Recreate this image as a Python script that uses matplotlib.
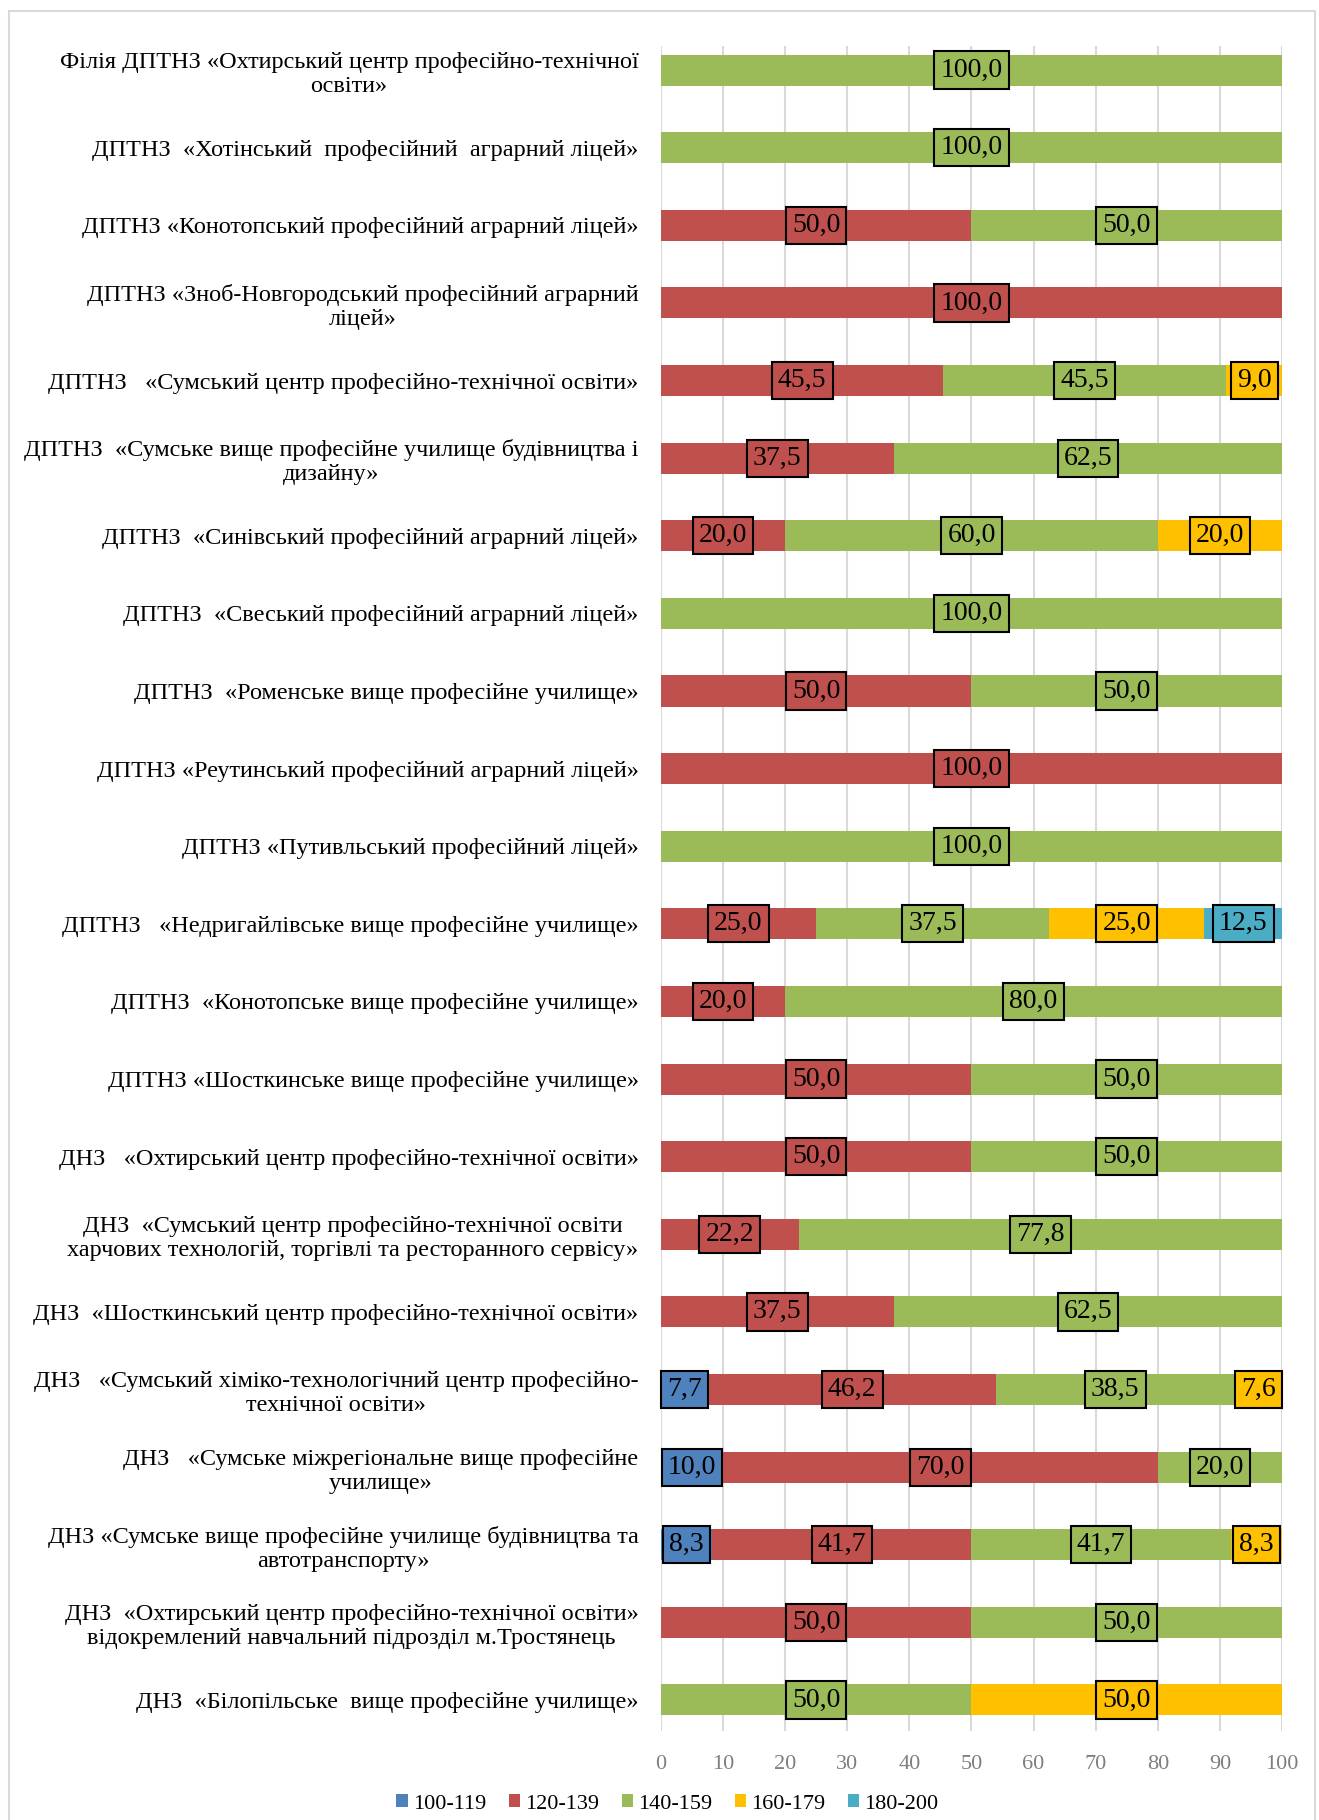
import matplotlib
matplotlib.use('Agg')
import matplotlib.pyplot as plt
import numpy as np
from matplotlib.patches import Rectangle

plt.rcParams['font.family'] = ['Liberation Serif', 'DejaVu Serif']

# категорії (зверху вниз)
categories = [
    'Філія ДПТНЗ «Охтирський центр професійно-технічної\nосвіти»',
    'ДПТНЗ  «Хотінський  професійний  аграрний ліцей»',
    'ДПТНЗ «Конотопський професійний аграрний ліцей»',
    'ДПТНЗ «Зноб-Новгородський професійний аграрний\nліцей»',
    'ДПТНЗ   «Сумський центр професійно-технічної освіти»',
    'ДПТНЗ  «Сумське вище професійне училище будівництва і\nдизайну»',
    'ДПТНЗ  «Синівський професійний аграрний ліцей»',
    'ДПТНЗ  «Свеський професійний аграрний ліцей»',
    'ДПТНЗ  «Роменське вище професійне училище»',
    'ДПТНЗ «Реутинський професійний аграрний ліцей»',
    'ДПТНЗ «Путивльський професійний ліцей»',
    'ДПТНЗ   «Недригайлівське вище професійне училище»',
    'ДПТНЗ  «Конотопське вище професійне училище»',
    'ДПТНЗ «Шосткинське вище професійне училище»',
    'ДНЗ   «Охтирський центр професійно-технічної освіти»',
    'ДНЗ  «Сумський центр професійно-технічної освіти\nхарчових технологій, торгівлі та ресторанного сервісу»',
    'ДНЗ  «Шосткинський центр професійно-технічної освіти»',
    'ДНЗ   «Сумський хіміко-технологічний центр професійно-\nтехнічної освіти»',
    'ДНЗ   «Сумське міжрегіональне вище професійне\nучилище»',
    'ДНЗ «Сумське вище професійне училище будівництва та\nавтотранспорту»',
    'ДНЗ  «Охтирський центр професійно-технічної освіти»\nвідокремлений навчальний підрозділ м.Тростянець',
    'ДНЗ  «Білопільське  вище професійне училище»',
]

s_100_119 = [0, 0, 0, 0, 0, 0, 0, 0, 0, 0, 0, 0, 0, 0, 0, 0, 0, 7.7, 10.0, 8.3, 0, 0]
s_120_139 = [0, 0, 50.0, 100.0, 45.5, 37.5, 20.0, 0, 50.0, 100.0, 0, 25.0, 20.0, 50.0, 50.0, 22.2, 37.5, 46.2, 70.0, 41.7, 50.0, 0]
s_140_159 = [100.0, 100.0, 50.0, 0, 45.5, 62.5, 60.0, 100.0, 50.0, 0, 100.0, 37.5, 80.0, 50.0, 50.0, 77.8, 62.5, 38.5, 20.0, 41.7, 50.0, 50.0]
s_160_179 = [0, 0, 0, 0, 9.0, 0, 20.0, 0, 0, 0, 0, 25.0, 0, 0, 0, 0, 0, 7.6, 0, 8.3, 0, 50.0]
s_180_200 = [0, 0, 0, 0, 0, 0, 0, 0, 0, 0, 0, 12.5, 0, 0, 0, 0, 0, 0, 0, 0, 0, 0]

series_names = ['100-119', '120-139', '140-159', '160-179', '180-200']
series = [s_100_119, s_120_139, s_140_159, s_160_179, s_180_200]
colors = ['#4F81BD', '#C0504D', '#9BBB59', '#FFC000', '#4BACC6']

fig = plt.figure(figsize=(13.19, 18.2), dpi=100)
ax = fig.add_axes([0.501, 0.0489, 0.471, 0.9258])

y = np.arange(len(categories))
left = np.zeros(len(categories))
for name, vals, col in zip(series_names, series, colors):
    vals = np.array(vals)
    ax.barh(y, vals, left=left, height=0.4, color=col, label=name, zorder=2)
    for yi, (l, v) in enumerate(zip(left, vals)):
        if v > 0:
            ax.text(l + v / 2, yi, f'{v:.1f}'.replace('.', ','), ha='center', va='center',
                    fontsize=20, color='black', zorder=3,
                    bbox=dict(boxstyle='square,pad=0.22', fc=col, ec='black', lw=1.5))
    left = left + vals

ax.set_xlim(0, 100)
ax.set_ylim(len(categories) - 0.6, -0.31)
ax.set_xticks(np.arange(0, 101, 10))
ax.set_yticks(y)
ax.set_yticklabels(categories, fontsize=17.5, multialignment='center')
ax.tick_params(axis='y', length=0, pad=16)
ax.tick_params(axis='x', length=0, pad=17, labelsize=16, labelcolor='#7F7F7F')
ax.grid(axis='x', color='#D9D9D9', linewidth=1.5, zorder=0)
ax.set_axisbelow(True)
for sp in ax.spines.values():
    sp.set_visible(False)

fig.legend(loc='center', bbox_to_anchor=(0.506, 0.0088), ncol=5, frameon=False,
           fontsize=16, handlelength=0.5, handleheight=0.5, handletextpad=0.25,
           columnspacing=1.0)

# рамка навколо
fig.patches.append(Rectangle((0.007, -0.01), 0.99, 1.004, transform=fig.transFigure,
                             fill=False, ec='#D9D9D9', lw=1.5))

plt.savefig('out.png', dpi=100)
